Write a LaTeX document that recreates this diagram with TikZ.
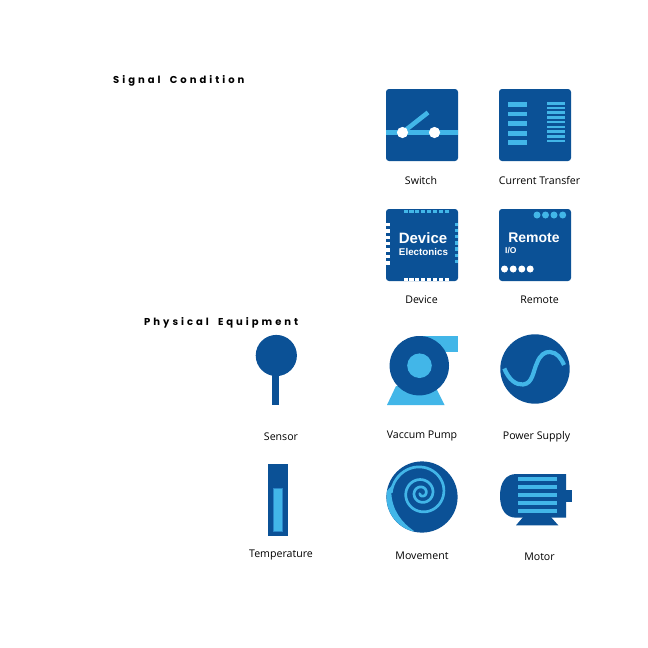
\documentclass[tikz,border=0pt]{standalone}
\usepackage{fontspec}
\setmainfont{Open Sans}
\newfontfamily\headfont[LetterSpace=30,WordSpace=1.8]{Poppins}
\newfontfamily\iconfont{Liberation Sans}
\definecolor{deepblue}{HTML}{0B5196}
\definecolor{skyblue}{HTML}{42B6E8}
\definecolor{midblue}{HTML}{2A86C8}
\tikzset{
  caption/.style={text=black,inner sep=0pt,font=\fontsize{10.6}{12}\selectfont},
  heading/.style={text=black,inner sep=0pt,anchor=west,font=\fontsize{10}{12}\headfont\bfseries},
  panel/.style={fill=deepblue,rounded corners=3pt},
  icontext/.style={text=white,inner sep=0pt,font=\iconfont\bfseries},
  wire/.style={draw=skyblue,line width=4.2pt},
  lightdot/.style={fill=skyblue},
  whitedot/.style={fill=white}
}
\begin{document}
\begin{tikzpicture}[x=1pt,y=-1pt]
\useasboundingbox (0,0) rectangle (648,648);
\fill[white] (0,0) rectangle (648,648);
% headings
\node[heading] (hsignal) at (113,81) {Signal Condition};
\node[heading] (hphysical) at (144,323) {Physical Equipment};
% Switch
\fill[panel] (386,89) rectangle (458,161);
\draw[wire] (386,132.5) -- (458,132.5);
\draw[wire,line width=4.6pt] (402.5,132.5) -- (428,112.5);
\fill[whitedot] (402.5,132.5) circle (5.6);
\fill[whitedot] (434.5,132.5) circle (5.6);
\node[caption] (lswitch) at (421,180.4) {Switch};
% Current transfer
\fill[panel] (499,89) rectangle (571,161);
\foreach \yy in {104.3,114,123.7,133.3,142.7}
  \fill[skyblue] (508,\yy-2.3) rectangle (526.5,\yy+2.3);
\foreach \yy in {103.3,108,112.7,117.3,122,127,131.7,136.3,141}
  \fill[skyblue] (546.5,\yy-1.3) rectangle (565,\yy+1.3);
\node[caption] (lcurrent) at (539.5,180.4) {Current Transfer};
% Device
\fill[panel] (386,209) rectangle (458,281);
\foreach \i in {0,...,7} {
  \fill[skyblue] (403.5+\i*5.9,209.5) rectangle (407.6+\i*5.9,212.5);
  \fill[white] (403.5+\i*5.9,278) rectangle (407.6+\i*5.9,280.5);
}
\foreach \i in {0,...,6} {
  \fill[white] (386,222.7+\i*6.4) rectangle (390,226.2+\i*6.4);
}
\foreach \i in {0,...,6} {
  \fill[skyblue] (455,222.5+\i*6.2) rectangle (458,226+\i*6.2);
}
\node[icontext,font=\fontsize{15}{17}\iconfont\bfseries] (tdevice) at (423,238.5) {Device};
\node[icontext,font=\fontsize{9.8}{11}\iconfont\bfseries] (telect) at (423.5,252) {Electonics};
\node[caption] (ldevice) at (421.5,299.4) {Device};
% Remote
\fill[panel] (499,209) rectangle (571,281);
\foreach \xx in {537,545.5,554,562.7}
  \fill[lightdot] (\xx,215) circle (3.5);
\foreach \xx in {504.5,513.2,521.8,530.2}
  \fill[whitedot] (\xx,269) circle (3.5);
\node[icontext,font=\fontsize{14}{16}\iconfont\bfseries] (tremote) at (534,237.5) {Remote};
\node[icontext,anchor=west,font=\fontsize{8.5}{10}\iconfont\bfseries] (tio) at (505,250.5) {I/O};
\node[caption] (lremote) at (539.5,299.4) {Remote};
% Sensor
\fill[deepblue] (272.4,372) rectangle (278.8,405);
\fill[deepblue] (276.3,355.5) circle (20.6);
\node[caption] (lsensor) at (281,436.4) {Sensor};
% Temperature
\fill[deepblue] (268.3,463.5) rectangle (287.5,535.5);
\fill[skyblue,draw=midblue,line width=0.8pt] (273.6,488.5) rectangle (282.6,531.5);
\node[caption] (ltemp) at (281,555.4) {Temperature};
% Vacuum pump
\fill[skyblue] (420,336) -- (458,336) -- (458,351.7) -- (420,351.7) -- cycle;
\fill[skyblue] (396,386) -- (435,386) -- (444.5,405) -- (387,405) -- cycle;
\fill[deepblue] (419.3,365.7) circle (29.7);
\fill[skyblue] (419.5,365.7) circle (12.3);
\node[caption] (lpump) at (422,436.4) {Vaccum Pump};
% Power supply
\fill[deepblue] (535,369) circle (34.7);
\draw[skyblue,line width=4.2pt] (504.3,368.5) .. controls (509,380) and (516,385) .. (523,384.5)
  .. controls (533,383.5) and (533,371) .. (537,363)
  .. controls (540,355) and (545,351.5) .. (550,352)
  .. controls (557,352.5) and (561,358) .. (564,365);
\node[caption] (lpower) at (536.5,436.4) {Power Supply};
% Movement
\fill[deepblue] (422,497) circle (35.6);
\fill[skyblue] plot[domain=-170:-255,samples=30,variable=\p] ({422+35.5*cos(\p)},{497+35.5*sin(\p)})
  -- (414,531) .. controls (402,523) and (392,510) .. (391.34,493)
  -- plot[domain=2.5:2.35,samples=12,variable=\t] ({421.7+(4.5+6*\t+0.7*\t*\t*\t)*cos(-360*\t)},{493+(4.5+6*\t+0.7*\t*\t*\t)*sin(-360*\t)}) -- cycle;
\draw[skyblue,line width=2.7pt] plot[domain=-0.5:2.5,samples=150,smooth,variable=\t] ({421.7+(4.5+6*\t+0.7*\t*\t*\t)*cos(-360*\t)},{493+(4.5+6*\t+0.7*\t*\t*\t)*sin(-360*\t)});
\node[caption] (lmove) at (422,555.4) {Movement};
% Motor
\fill[deepblue] (566,474) -- (516.5,474) .. controls (506,474) and (500,482) .. (500,495.8)
  .. controls (500,510) and (506,517.7) .. (516.5,517.7) -- (566,517.7) -- cycle;
\fill[deepblue] (565,490) rectangle (571.5,501.7);
\fill[deepblue] (524,516) -- (550,516) -- (558.3,525.3) -- (516,525.3) -- cycle;
\foreach \yy in {479.3,487.3,495,502.7,510.7}
  \fill[skyblue] (518,\yy-2) rectangle (556.5,\yy+2);
\node[caption] (lmotor) at (539.5,556.4) {Motor};
\end{tikzpicture}
\end{document}
